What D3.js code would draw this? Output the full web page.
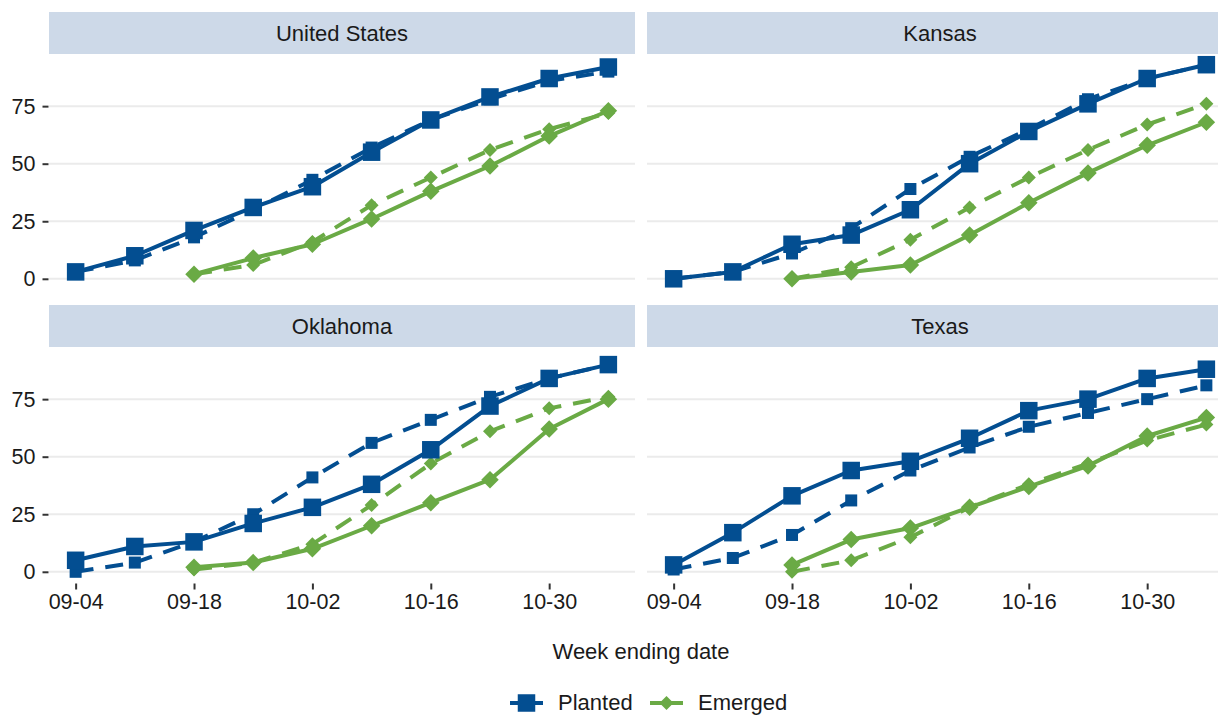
<!DOCTYPE html>
<html>
<head>
<meta charset="utf-8">
<script src="https://cdn.jsdelivr.net/npm/d3@7"></script>
<style>
  html, body { margin: 0; padding: 0; background: #fff; }
  svg { display: block; font-family: "Liberation Sans", Arial, sans-serif; }
</style>
</head>
<body>
<svg id="chart" width="1218" height="715"></svg>
<script>
// Weekly crop progress, percent of acreage
const weeks = ["2022-09-04","2022-09-11","2022-09-18","2022-09-25","2022-10-02",
               "2022-10-09","2022-10-16","2022-10-23","2022-10-30","2022-11-06"];
const regions = ["United States", "Kansas", "Oklahoma", "Texas"];
const stages = ["Planted", "Emerged"];
const yTicks = [0, 25, 50, 75];
const xTickLabels = ["09-04", "09-18", "10-02", "10-16", "10-30"];

// Current season (solid lines)
const plantedCurrent = {
  "United States": [3, 10, 21, 31, 40, 55, 69, 79, 87, 92],
  "Kansas":        [0, 3, 15, 19, 30, 50, 64, 76, 87, 93],
  "Oklahoma":      [5, 11, 13, 21, 28, 38, 53, 72, 84, 90],
  "Texas":         [3, 17, 33, 44, 48, 58, 70, 75, 84, 88]
};
const emergedCurrent = {
  "United States": [null, null, 2, 9, 15, 26, 38, 49, 62, 73],
  "Kansas":        [null, null, 0, 3, 6, 19, 33, 46, 58, 68],
  "Oklahoma":      [null, null, 2, 4, 10, 20, 30, 40, 62, 75],
  "Texas":         [null, null, 3, 14, 19, 28, 37, 46, 59, 67]
};
// Comparison season (dashed lines)
const plantedComparison = {
  "United States": [3, 8, 18, 30, 43, 57, 69, 78, 86, 90],
  "Kansas":        [0, 3, 11, 22, 39, 53, 65, 78, 87, 93],
  "Oklahoma":      [0, 4, 13, 25, 41, 56, 66, 76, 84, 90],
  "Texas":         [1, 6, 16, 31, 44, 54, 63, 69, 75, 81]
};
const emergedComparison = {
  "United States": [null, null, 2, 6, 16, 32, 44, 56, 65, 72],
  "Kansas":        [null, null, 0, 5, 17, 31, 44, 56, 67, 76],
  "Oklahoma":      [null, null, 1, 4, 12, 29, 47, 61, 71, 76],
  "Texas":         [null, null, 0, 5, 15, 28, 38, 47, 57, 64]
};

const colors = { Planted: "#034E91", Emerged: "#6AAA45" };
const textColor = "#1a1a1a";
const parseDate = d3.timeParse("%Y-%m-%d");
const dates = weeks.map(parseDate);

const svg = d3.select("#chart");

// Facet geometry
const colX = [49, 647];
const panelW = 586;
const stripH = 42;
const rowTop = [12, 305];
const panelH = 235.5;

const allValues = [];
[plantedCurrent, emergedCurrent, plantedComparison, emergedComparison].forEach(s =>
  regions.forEach(r => s[r].forEach(v => { if (v != null) allValues.push(v); })));
const yMin = d3.min(allValues), yMax = d3.max(allValues);
const yPad = (yMax - yMin) * 0.05;

const tMin = dates[0], tMax = dates[dates.length - 1];
const tPad = (tMax - tMin) * 0.05;
const fmt = d3.timeFormat("%m-%d");

function diamondPath(s) {
  return `M0,${-s}L${s},0L0,${s}L${-s},0Z`;
}
function marker(g, stage, x, y, big) {
  if (stage === "Planted") {
    const h = big ? 8.75 : 6;
    g.append("rect").attr("x", x - h).attr("y", y - h)
      .attr("width", 2 * h).attr("height", 2 * h).attr("fill", colors[stage]);
  } else {
    const h = big ? 8.75 : 7;
    g.append("path").attr("d", diamondPath(h))
      .attr("transform", `translate(${x},${y})`).attr("fill", colors[stage]);
  }
}

regions.forEach((region, i) => {
  const col = i % 2, row = Math.floor(i / 2);
  const left = colX[col];
  const top = rowTop[row] + stripH;

  const x = d3.scaleTime()
    .domain([new Date(+tMin - tPad), new Date(+tMax + tPad)])
    .range([left, left + panelW]);
  const y = d3.scaleLinear()
    .domain([yMin - yPad, yMax + yPad])
    .range([top + panelH, top]);

  const g = svg.append("g");

  // strip
  g.append("rect").attr("x", left).attr("y", rowTop[row])
    .attr("width", panelW).attr("height", stripH).attr("fill", "#CDD9E8");
  g.append("text").attr("x", left + panelW / 2).attr("y", rowTop[row] + stripH / 2 + 8)
    .attr("text-anchor", "middle").attr("font-size", 22).attr("fill", textColor)
    .text(region);

  // horizontal grid lines
  g.selectAll("line.grid").data(yTicks).enter().append("line")
    .attr("x1", left).attr("x2", left + panelW)
    .attr("y1", d => y(d)).attr("y2", d => y(d))
    .attr("stroke", "#EBEBEB").attr("stroke-width", 2);

  // y axis on left column
  if (col === 0) {
    const ya = d3.axisLeft(y).tickValues(yTicks).tickSize(6).tickPadding(7);
    const ag = g.append("g").attr("transform", `translate(${left - 0.5},0)`).call(ya);
    ag.select(".domain").remove();
    ag.selectAll(".tick line").attr("stroke", "#333").attr("stroke-width", 2);
    ag.selectAll(".tick text").attr("font-size", 21.5).attr("fill", textColor)
      .attr("font-family", "Liberation Sans, Arial, sans-serif");
  }
  // x axis on bottom row
  if (row === 1) {
    const xTickDates = xTickLabels.map(l => dates[weeks.findIndex(w => w.slice(5) === l)]);
    const xa = d3.axisBottom(x).tickValues(xTickDates).tickFormat(fmt)
      .tickSize(6).tickPadding(4);
    const ag = g.append("g").attr("transform", `translate(0,${top + panelH + 1})`).call(xa);
    ag.select(".domain").remove();
    ag.selectAll(".tick line").attr("stroke", "#333").attr("stroke-width", 2);
    ag.selectAll(".tick text").attr("font-size", 21.5).attr("fill", textColor)
      .attr("font-family", "Liberation Sans, Arial, sans-serif");
  }

  const line = d3.line()
    .defined(d => d.v != null)
    .x(d => x(d.t)).y(d => y(d.v));

  const series = [
    { stage: "Planted",  vals: plantedComparison[region], dashed: true },
    { stage: "Emerged",  vals: emergedComparison[region], dashed: true },
    { stage: "Planted",  vals: plantedCurrent[region],    dashed: false },
    { stage: "Emerged",  vals: emergedCurrent[region],    dashed: false }
  ];
  series.forEach(s => {
    const pts = s.vals.map((v, k) => ({ t: dates[k], v })).filter(d => d.v != null);
    g.append("path").datum(pts).attr("d", line)
      .attr("fill", "none").attr("stroke", colors[s.stage])
      .attr("stroke-width", 4).attr("stroke-linejoin", "round")
      .attr("stroke-dasharray", s.dashed ? "18 12" : null);
    pts.forEach(d => marker(g, s.stage, x(d.t), y(d.v), !s.dashed));
  });
});

// x axis title
svg.append("text").attr("x", 641).attr("y", 659).attr("text-anchor", "middle")
  .attr("font-size", 22).attr("fill", textColor).text("Week ending date");

// legend
const legend = svg.append("g");
const legendX = [510, 650];
stages.forEach((st, i) => {
  const lx = legendX[i], ly = 703;
  legend.append("line").attr("x1", lx).attr("x2", lx + 33).attr("y1", ly).attr("y2", ly)
    .attr("stroke", colors[st]).attr("stroke-width", 4);
  marker(legend, st, lx + 16.5, ly, st === "Planted");
  legend.append("text").attr("x", lx + 48).attr("y", ly + 7)
    .attr("font-size", 22).attr("fill", textColor).text(st);
});
</script>
</body>
</html>
